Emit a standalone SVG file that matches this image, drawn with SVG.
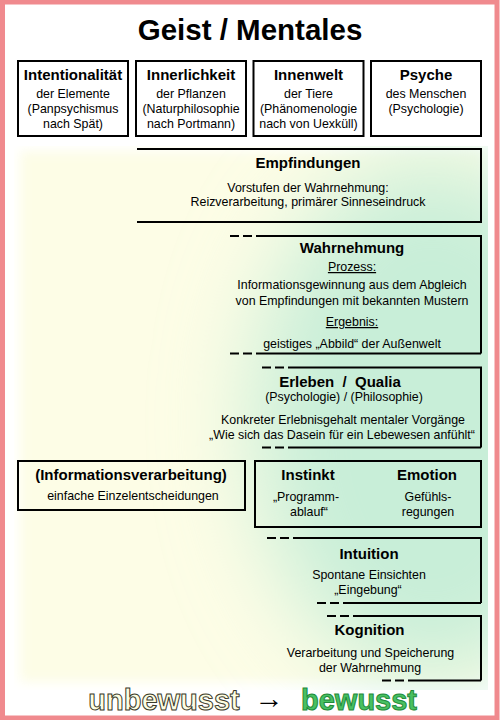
<svg xmlns="http://www.w3.org/2000/svg" width="500" height="720" viewBox="0 0 500 720">
<defs>
<filter id="blurBg" x="-20%" y="-20%" width="140%" height="140%"><feGaussianBlur stdDeviation="6"/></filter>
<filter id="blurGreen" x="-50%" y="-50%" width="200%" height="200%"><feGaussianBlur stdDeviation="45"/></filter>
<clipPath id="bgClip"><rect x="14" y="146" width="474" height="544"/></clipPath>
<style>
text{font-family:"Liberation Sans",Arial,sans-serif;fill:#000;text-anchor:middle}
.t{font-size:15px;font-weight:bold}
.s{font-size:12.4px}
.u{text-decoration:underline}
.box{fill:#fff;stroke:#000;stroke-width:2}
.obox{fill:none;stroke:#000;stroke-width:2}
.ln{fill:none;stroke:#000;stroke-width:2}
.dl{fill:none;stroke:#000;stroke-width:2;stroke-dasharray:9 4 9 4 2000}
</style>
</defs>
<rect x="0" y="0" width="500" height="720" fill="#fff"/>
<g id="background">
<g clip-path="url(#bgClip)">
<rect x="20" y="151" width="464" height="531" fill="#fdfde6" filter="url(#blurBg)"/>
<ellipse cx="432" cy="420" rx="180" ry="260" fill="#c8eed8" filter="url(#blurGreen)"/>
</g>
</g>
<rect x="2.5" y="2" width="494.5" height="716" fill="none" stroke="#f08a8e" stroke-width="5"/>
<text id="title" x="250" y="40" style="font-size:29.5px;font-weight:bold">Geist / Mentales</text>

<g id="n-intentionalitaet">
<rect class="box" x="18" y="61" width="110" height="75"/>
<text class="t" x="73" y="80">Intentionalität</text>
<text class="s" x="73" y="98">der Elemente</text>
<text class="s" x="73" y="113">(Panpsychismus</text>
<text class="s" x="73" y="128">nach Spät)</text>
</g>
<g id="n-innerlichkeit">
<rect class="box" x="136" y="61" width="110" height="75"/>
<text class="t" x="191" y="80">Innerlichkeit</text>
<text class="s" x="191" y="97.5">der Pflanzen</text>
<text class="s" x="191" y="112.5">(Naturphilosophie</text>
<text class="s" x="191" y="127.5">nach Portmann)</text>
</g>
<g id="n-innenwelt">
<rect class="box" x="253.5" y="61" width="110" height="75"/>
<text class="t" x="308.5" y="80">Innenwelt</text>
<text class="s" x="308.5" y="98">der Tiere</text>
<text class="s" x="308.5" y="113">(Phänomenologie</text>
<text class="s" x="308.5" y="128">nach von Uexküll)</text>
</g>
<g id="n-psyche">
<rect class="box" x="371" y="61" width="110" height="75"/>
<text class="t" x="426" y="80">Psyche</text>
<text class="s" x="426" y="98">des Menschen</text>
<text class="s" x="426" y="113">(Psychologie)</text>
</g>

<g id="n-empfindungen">
<path class="ln" d="M137 149 H481 V222 H137"/>
<text class="t" x="308" y="168">Empfindungen</text>
<text class="s" x="308" y="192">Vorstufen der Wahrnehmung:</text>
<text class="s" x="308" y="206">Reizverarbeitung, primärer Sinneseindruck</text>
</g>

<g id="n-wahrnehmung">
<path class="dl" d="M230 236 H481 V353.5"/>
<path class="dl" d="M230 353.5 H481"/>
<text class="t" x="352" y="253">Wahrnehmung</text>
<text class="s u" x="352" y="271">Prozess:</text>
<text class="s" x="352" y="289">Informationsgewinnung aus dem Abgleich</text>
<text class="s" x="352" y="304.5">von Empfindungen mit bekannten Mustern</text>
<text class="s u" x="352" y="326">Ergebnis:</text>
<text class="s" x="352" y="348">geistiges „Abbild“ der Außenwelt</text>
</g>

<g id="n-erleben">
<path class="dl" d="M262 367.5 H481 V447.5"/>
<path class="dl" d="M262 447.5 H481"/>
<text class="t" x="340" y="386.5" style="white-space:pre">Erleben  /  Qualia</text>
<text class="s" x="344" y="400.5">(Psychologie) / (Philosophie)</text>
<text class="s" x="343" y="424">Konkreter Erlebnisgehalt mentaler Vorgänge</text>
<text class="s" x="342" y="438.5">„Wie sich das Dasein für ein Lebewesen anfühlt“</text>
</g>

<g id="n-informationsverarbeitung">
<rect class="obox" x="18" y="461" width="227" height="49"/>
<text class="t" x="131" y="480">(Informationsverarbeitung)</text>
<text class="s" x="133" y="500">einfache Einzelentscheidungen</text>
</g>

<g id="n-instinkt-emotion">
<rect class="obox" x="255" y="461" width="226" height="66"/>
<text class="t" x="308" y="480">Instinkt</text>
<text class="s" x="306" y="501">„Programm-</text>
<text class="s" x="309" y="515.5">ablauf“</text>
<text class="t" x="427" y="480">Emotion</text>
<text class="s" x="428" y="501">Gefühls-</text>
<text class="s" x="428" y="515.5">regungen</text>
</g>

<g id="n-intuition">
<path class="dl" d="M267 538 H481 V603"/>
<path class="dl" d="M317 603 H481"/>
<text class="t" x="369" y="559">Intuition</text>
<text class="s" x="369" y="578.5">Spontane Einsichten</text>
<text class="s" x="368" y="593.5">„Eingebung“</text>
</g>

<g id="n-kognition">
<path class="dl" d="M327 616 H481 V680.5"/>
<path class="dl" d="M382 680.5 H481"/>
<text class="t" x="369.5" y="634.5">Kognition</text>
<text class="s" x="370.5" y="657">Verarbeitung und Speicherung</text>
<text class="s" x="370" y="671.5">der Wahrnehmung</text>
</g>

<g id="connectors"></g>

<g id="footer">
<text x="164" y="710" style="font-size:29px;font-weight:bold;fill:#fdfde2;stroke:#3a3a2a;stroke-width:1">unbewusst</text>
<text x="269" y="708" style="font-size:29px">→</text>
<text x="359" y="710" style="font-size:29px;font-weight:bold;fill:#48c062;stroke:#1f8a3a;stroke-width:1">bewusst</text>
</g>
</svg>
